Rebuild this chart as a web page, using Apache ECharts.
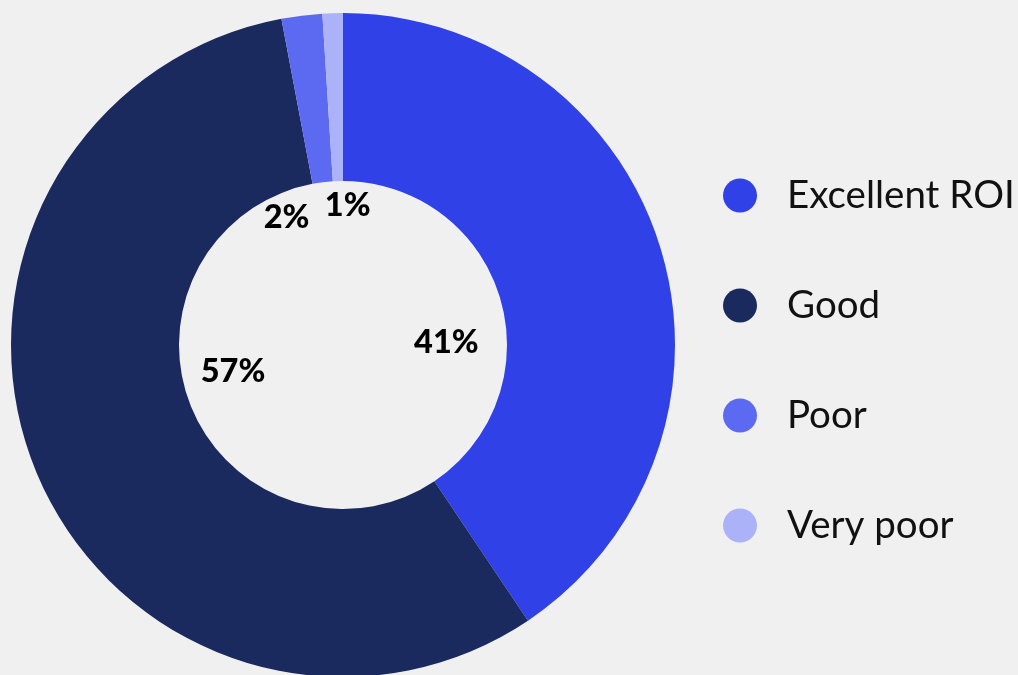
<!DOCTYPE html>
<html>
<head>
<meta charset="utf-8">
<script src="https://cdn.jsdelivr.net/npm/echarts@6/dist/echarts.min.js"></script>
<style>
  html, body { margin: 0; padding: 0; background: #f0f0f0; }
  #chart { width: 1018px; height: 675px; }
</style>
</head>
<body>
<div id="chart"></div>
<script>
// ROI rating shares (percent)
const categories = ['Excellent ROI', 'Good', 'Poor', 'Very poor'];
const shares = [41, 57, 2, 1];
const sliceColors = ['#3041e7', '#1b2a5e', '#5b6af0', '#abb2f7'];
// nudges for the percentage labels that sit in the donut hole
const labelOffsets = [[0, 29], [-10, -14], [-43, -20], [8, -32]];

const FONT = 'Lato, "Noto Sans", sans-serif';

const ringData = categories.map((name, i) => ({
  name,
  value: shares[i],
  itemStyle: { color: sliceColors[i] }
}));

const labelData = categories.map((name, i) => ({
  name,
  value: shares[i],
  label: { offset: labelOffsets[i] }
}));

const chart = echarts.init(document.getElementById('chart'));
chart.setOption({
  backgroundColor: '#f0f0f0',
  animation: false,
  legend: {
    orient: 'vertical',
    left: 718,
    top: 171,
    data: categories,
    icon: 'circle',
    itemWidth: 84,
    itemHeight: 34,
    itemGap: 71,
    selectedMode: false,
    textStyle: {
      fontFamily: FONT,
      fontSize: 38.5,
      color: '#111111',
      lineHeight: 34
    }
  },
  series: [
    {
      name: 'ROI',
      type: 'pie',
      center: [343, 345],
      radius: [164, 332],
      startAngle: 90,
      clockwise: true,
      silent: true,
      label: { show: false },
      labelLine: { show: false },
      itemStyle: { borderWidth: 0 },
      data: ringData
    },
    {
      name: 'ROI labels',
      type: 'pie',
      center: [343, 345],
      radius: [0, 210],
      startAngle: 90,
      clockwise: true,
      silent: true,
      itemStyle: { color: 'rgba(0,0,0,0)' },
      labelLine: { show: false },
      label: {
        show: true,
        position: 'inside',
        formatter: '{c}%',
        fontFamily: FONT,
        fontWeight: 900,
        fontSize: 32.5,
        color: '#000000'
      },
      data: labelData
    }
  ]
});
</script>
</body>
</html>
